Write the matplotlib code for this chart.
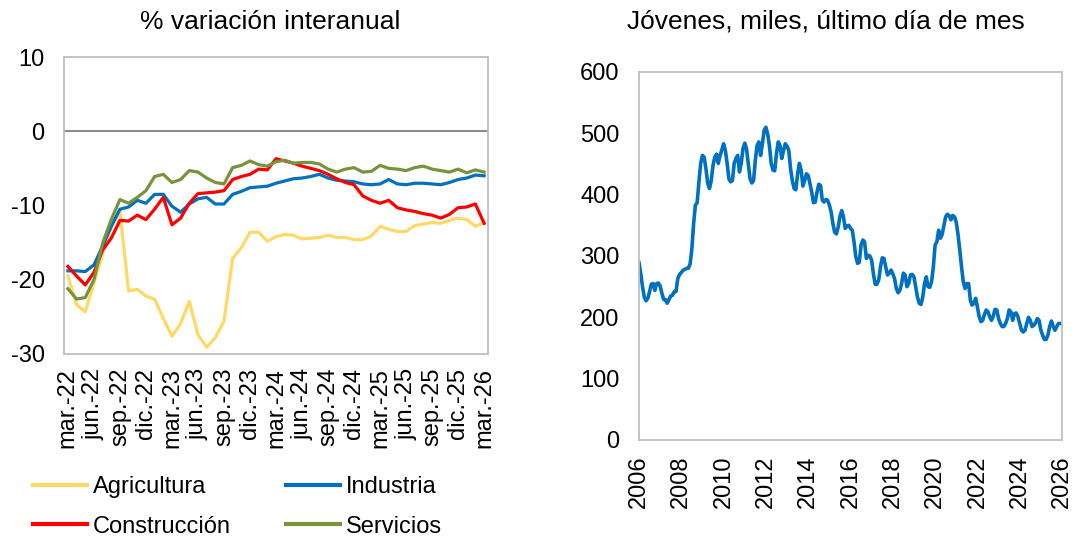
import numpy as np
import matplotlib
matplotlib.use('Agg')
import matplotlib.pyplot as plt

plt.rcParams['font.family'] = ['Liberation Sans', 'DejaVu Sans']
plt.rcParams['axes.unicode_minus'] = False

# --- panel izquierdo: % variación interanual (mar-22 a mar-26, mensual)
etiquetas = ['mar.-22', 'jun.-22', 'sep.-22', 'dic.-22',
             'mar.-23', 'jun.-23', 'sep.-23', 'dic.-23',
             'mar.-24', 'jun.-24', 'sep.-24', 'dic.-24',
             'mar.-25', 'jun.-25', 'sep.-25', 'dic.-25', 'mar.-26']

agricultura = [-19.5, -23.4, -24.3, -20.5, -16.5, -13.0, -10.8, -21.5, -21.3, -22.2,
               -22.6, -25.2, -27.6, -25.9, -22.9, -27.4, -29.1, -27.8, -25.6, -17.1,
               -15.7, -13.6, -13.6, -14.8, -14.2, -13.9, -14.0, -14.5, -14.4, -14.3,
               -14.0, -14.3, -14.3, -14.6, -14.6, -14.1, -12.8, -13.2, -13.5, -13.5,
               -12.7, -12.5, -12.3, -12.4, -12.0, -11.7, -11.9, -12.8, -12.3]

industria = [-18.8, -18.8, -18.9, -18.0, -15.5, -12.8, -10.5, -10.2, -9.3, -9.7,
             -8.5, -8.5, -10.1, -10.9, -9.8, -9.1, -8.9, -9.8, -9.8, -8.5,
             -8.1, -7.6, -7.5, -7.4, -7.0, -6.7, -6.4, -6.3, -6.1, -5.8,
             -6.3, -6.6, -6.7, -6.8, -7.1, -7.2, -7.1, -6.5, -7.1, -7.2,
             -7.0, -7.0, -7.1, -7.2, -6.9, -6.5, -6.3, -5.9, -6.0]

construccion = [-18.2, -19.5, -20.7, -19.0, -16.0, -14.4, -12.0, -12.1, -11.3, -11.9,
                -10.5, -8.9, -12.6, -11.7, -9.7, -8.4, -8.3, -8.2, -8.0, -6.5,
                -6.1, -5.8, -5.1, -5.2, -3.7, -4.0, -4.3, -4.7, -5.0, -5.3,
                -5.8, -6.4, -6.9, -7.2, -8.7, -9.3, -9.7, -9.3, -10.3, -10.6,
                -10.8, -11.1, -11.3, -11.7, -11.2, -10.3, -10.2, -9.8, -12.4]

servicios = [-21.2, -22.6, -22.4, -20.0, -15.1, -11.9, -9.2, -9.7, -8.9, -8.0,
             -6.1, -5.8, -6.9, -6.5, -5.3, -5.5, -6.3, -6.9, -7.1, -4.9,
             -4.6, -4.0, -4.5, -4.7, -4.1, -3.9, -4.3, -4.2, -4.2, -4.4,
             -5.1, -5.5, -5.1, -4.9, -5.5, -5.4, -4.6, -5.0, -5.1, -5.3,
             -4.9, -4.7, -5.1, -5.3, -5.5, -5.1, -5.6, -5.2, -5.5]

# --- panel derecho: jóvenes, miles (ene-2006 a ene-2026, mensual)
anios = ['2006', '2008', '2010', '2012', '2014', '2016', '2018', '2020', '2022', '2024', '2026']

jovenes = [289, 271, 250, 233, 227, 231, 242, 254, 255, 244, 255, 256,
           251, 239, 229, 229, 223, 229, 235, 236, 242, 242, 263, 270,
           273, 277, 278, 280, 280, 287, 312, 353, 383, 387, 421, 451,
           464, 461, 442, 418, 410, 423, 448, 461, 466, 451, 464, 473,
           483, 472, 451, 426, 421, 423, 451, 459, 464, 437, 451, 475,
           484, 475, 451, 426, 419, 423, 456, 480, 486, 464, 483, 505,
           510, 499, 480, 451, 440, 439, 467, 486, 480, 459, 472, 483,
           479, 472, 442, 423, 410, 408, 434, 451, 440, 414, 423, 434,
           431, 418, 404, 387, 388, 404, 417, 415, 391, 388, 392, 391,
           383, 372, 353, 339, 336, 347, 364, 374, 364, 345, 349, 350,
           345, 342, 323, 299, 288, 290, 318, 326, 323, 296, 301, 300,
           293, 271, 254, 254, 261, 282, 297, 296, 282, 269, 272, 277,
           271, 263, 247, 240, 244, 255, 272, 269, 250, 255, 269, 270,
           266, 250, 233, 223, 221, 233, 255, 266, 250, 249, 258, 282,
           318, 323, 342, 329, 335, 350, 364, 368, 366, 359, 366, 364,
           355, 335, 310, 282, 258, 247, 255, 255, 228, 220, 223, 231,
           217, 201, 193, 195, 205, 212, 209, 201, 195, 202, 213, 212,
           198, 190, 185, 185, 190, 198, 212, 209, 195, 206, 207, 201,
           190, 179, 176, 179, 190, 200, 195, 185, 187, 191, 198, 195,
           179, 171, 164, 164, 171, 185, 194, 185, 179, 185, 190, 190, 190]

W, H = 1075, 539
fig = plt.figure(figsize=(W / 100, H / 100), dpi=100)
borde = '#bfbfbf'
fs = 17

def caja(x0, y0, x1, y1):
    return [x0 / W, 1 - y1 / H, (x1 - x0) / W, (y1 - y0) / H]

# panel izquierdo
ax1 = fig.add_axes(caja(64, 57, 488, 354))
x = np.arange(len(agricultura))
l_agr, = ax1.plot(x, agricultura, color='#ffd966', lw=2.3, label='Agricultura')
l_ind, = ax1.plot(x, industria, color='#0070c0', lw=2.3, label='Industria')
l_con, = ax1.plot(x, construccion, color='#ff0000', lw=2.3, label='Construcción')
l_ser, = ax1.plot(x, servicios, color='#77933c', lw=2.3, label='Servicios')
ax1.axhline(0, color='#808080', lw=1.3, zorder=1)
ax1.set_xlim(-0.45, len(x) - 0.55)
ax1.set_ylim(-30, 10)
ax1.set_yticks([-30, -20, -10, 0, 10])
ax1.set_xticks(np.arange(0, len(x), 3))
ax1.set_xticklabels(etiquetas, rotation=90)
ax1.tick_params(length=0, labelsize=fs)
ax1.tick_params(axis='y', pad=14)
ax1.tick_params(axis='x', pad=10)

# panel derecho
ax2 = fig.add_axes(caja(639, 72, 1062, 440))
t = 2006 + np.arange(len(jovenes)) / 12
ax2.plot(t, jovenes, color='#0070c0', lw=2.6)
ax2.set_xlim(2006, 2026)
ax2.set_ylim(0, 600)
ax2.set_yticks(range(0, 601, 100))
ax2.set_xticks([int(a) for a in anios])
ax2.set_xticklabels(anios, rotation=90)
ax2.tick_params(length=0, labelsize=fs)
ax2.tick_params(axis='y', pad=14)
ax2.tick_params(axis='x', pad=11)

for ax in (ax1, ax2):
    for s in ax.spines.values():
        s.set_color(borde)
        s.set_linewidth(1.3)

fig.text(270 / W, 1 - 22 / H, '% variación interanual', fontsize=19, ha='center', va='center')
fig.text(826 / W, 1 - 22 / H, 'Jóvenes, miles, último día de mes', fontsize=19, ha='center', va='center')

# leyenda por filas: Agricultura/Industria, Construcción/Servicios
orden = [l_agr, l_con, l_ind, l_ser]
leg = fig.legend(orden, [l.get_label() for l in orden], ncol=2, frameon=False, fontsize=fs,
                 loc='upper left', bbox_to_anchor=(33 / W, 1 - 476 / H),
                 borderaxespad=0, borderpad=0, handlelength=2.3, handletextpad=0.25,
                 columnspacing=2.3, labelspacing=0.75)
for l in leg.get_lines():
    l.set_linewidth(3)

fig.savefig('out.png', dpi=100)
